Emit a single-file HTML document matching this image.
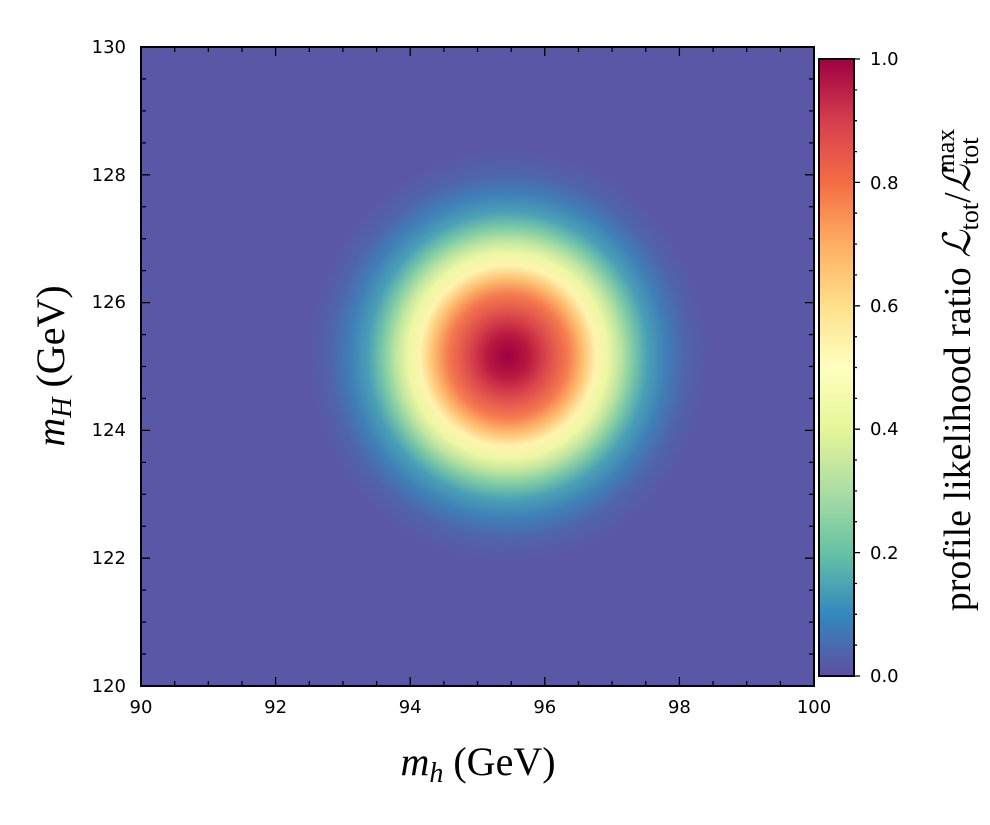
<!DOCTYPE html>
<html><head><meta charset="utf-8"><style>
html,body{margin:0;padding:0;background:#fff;}
svg{display:block;}
text{font-family:"DejaVu Sans","Liberation Sans",sans-serif;}
.s{font-family:"Liberation Serif",serif;}
</style></head><body>
<svg width="990" height="825" xmlns="http://www.w3.org/2000/svg">
<defs>
<radialGradient id="g" gradientUnits="userSpaceOnUse" cx="508" cy="356" r="200" gradientTransform="translate(508 356) scale(1 1.03) translate(-508 -356)">
<stop offset="0" stop-color="#9e0142"/>
<stop offset="0.1" stop-color="#b8173f"/>
<stop offset="0.2" stop-color="#dc4a4b"/>
<stop offset="0.3" stop-color="#f57a4e"/>
<stop offset="0.375" stop-color="#fdbf71"/>
<stop offset="0.44" stop-color="#fef3ae"/>
<stop offset="0.5" stop-color="#edf7a3"/>
<stop offset="0.56" stop-color="#bfe5a0"/>
<stop offset="0.625" stop-color="#7ccaa5"/>
<stop offset="0.7" stop-color="#4a9fb6"/>
<stop offset="0.79" stop-color="#3f7fb7"/>
<stop offset="0.89" stop-color="#5064aa"/>
<stop offset="1" stop-color="#5a58a6"/>
</radialGradient>
<linearGradient id="cb" x1="0" y1="1" x2="0" y2="0">
<stop offset="0" stop-color="#5e4fa2"/>
<stop offset="0.1" stop-color="#3288bd"/>
<stop offset="0.2" stop-color="#66c2a5"/>
<stop offset="0.3" stop-color="#abdda4"/>
<stop offset="0.4" stop-color="#e6f598"/>
<stop offset="0.5" stop-color="#ffffbf"/>
<stop offset="0.6" stop-color="#fee08b"/>
<stop offset="0.7" stop-color="#fdae61"/>
<stop offset="0.8" stop-color="#f46d43"/>
<stop offset="0.9" stop-color="#d53e4f"/>
<stop offset="1" stop-color="#9e0142"/>
</linearGradient>
</defs>
<rect x="141" y="47" width="673" height="639" fill="#5a58a6"/>
<rect x="141" y="47" width="673" height="639" fill="url(#g)"/>
<g stroke="#000" stroke-width="1.3">
<path d="M141,686v-9M275.6,686v-9M410.2,686v-9M544.8,686v-9M679.4,686v-9M814,686v-9M141,47v9M275.6,47v9M410.2,47v9M544.8,47v9M679.4,47v9M814,47v9"/>
<path d="M174.7,686v-5M208.3,686v-5M242,686v-5M309.3,686v-5M342.9,686v-5M376.6,686v-5M443.9,686v-5M477.5,686v-5M511.2,686v-5M578.5,686v-5M612.1,686v-5M645.8,686v-5M713.1,686v-5M746.7,686v-5M780.4,686v-5M174.7,47v5M208.3,47v5M242,47v5M309.3,47v5M342.9,47v5M376.6,47v5M443.9,47v5M477.5,47v5M511.2,47v5M578.5,47v5M612.1,47v5M645.8,47v5M713.1,47v5M746.7,47v5M780.4,47v5"/>
<path d="M141,686h9M141,558.2h9M141,430.4h9M141,302.6h9M141,174.8h9M141,47h9M814,686h-9M814,558.2h-9M814,430.4h-9M814,302.6h-9M814,174.8h-9M814,47h-9"/>
<path d="M141,654.05h5M141,622.1h5M141,590.15h5M141,526.25h5M141,494.3h5M141,462.35h5M141,398.45h5M141,366.5h5M141,334.55h5M141,270.65h5M141,238.7h5M141,206.75h5M141,142.85h5M141,110.9h5M141,78.95h5M814,654.05h-5M814,622.1h-5M814,590.15h-5M814,526.25h-5M814,494.3h-5M814,462.35h-5M814,398.45h-5M814,366.5h-5M814,334.55h-5M814,270.65h-5M814,238.7h-5M814,206.75h-5M814,142.85h-5M814,110.9h-5M814,78.95h-5"/>
</g>
<rect x="141" y="47" width="673" height="639" fill="none" stroke="#000" stroke-width="2"/>
<g font-size="18" fill="#000" text-anchor="middle">
<text x="141" y="713">90</text><text x="275.6" y="713">92</text><text x="410.2" y="713">94</text><text x="544.8" y="713">96</text><text x="679.4" y="713">98</text><text x="814" y="713">100</text>
</g>
<g font-size="18" fill="#000" text-anchor="end">
<text x="126" y="692">120</text><text x="126" y="564">122</text><text x="126" y="436">124</text><text x="126" y="308">126</text><text x="126" y="181">128</text><text x="126" y="53">130</text>
</g>
<text class="s" x="478" y="775" font-size="40" text-anchor="middle"><tspan font-style="italic">m</tspan><tspan font-style="italic" font-size="28" dy="7">h</tspan><tspan dy="-7"> (GeV)</tspan></text>
<text class="s" transform="translate(64 366) rotate(-90)" font-size="40" text-anchor="middle"><tspan font-style="italic">m</tspan><tspan font-style="italic" font-size="28" dy="7">H</tspan><tspan dy="-7"> (GeV)</tspan></text>
<rect x="819" y="59" width="35" height="617" fill="url(#cb)" stroke="#000" stroke-width="2"/>
<g stroke="#000" stroke-width="1.3">
<path d="M854,676h6M854,552.6h6M854,429.2h6M854,305.8h6M854,182.4h6M854,59h6"/>
<path d="M854,645.2h3M854,614.3h3M854,583.5h3M854,521.7h3M854,490.9h3M854,460h3M854,398.4h3M854,367.5h3M854,336.7h3M854,274.9h3M854,244.1h3M854,213.2h3M854,151.6h3M854,120.7h3M854,89.9h3"/>
</g>
<g font-size="18" fill="#000">
<text x="870" y="682">0.0</text><text x="870" y="559">0.2</text><text x="870" y="435">0.4</text><text x="870" y="312">0.6</text><text x="870" y="189">0.8</text><text x="870" y="65">1.0</text>
</g>
<text class="s" transform="translate(970 370) rotate(-90)" font-size="38" text-anchor="middle">profile likelihood ratio <tspan font-style="italic">ℒ</tspan><tspan font-size="26" dy="8">tot</tspan><tspan dy="-8">/</tspan><tspan font-style="italic">ℒ</tspan><tspan font-size="26" dy="8">tot</tspan><tspan font-size="26" dx="-36" dy="-24">max</tspan></text>
</svg>
</body></html>
